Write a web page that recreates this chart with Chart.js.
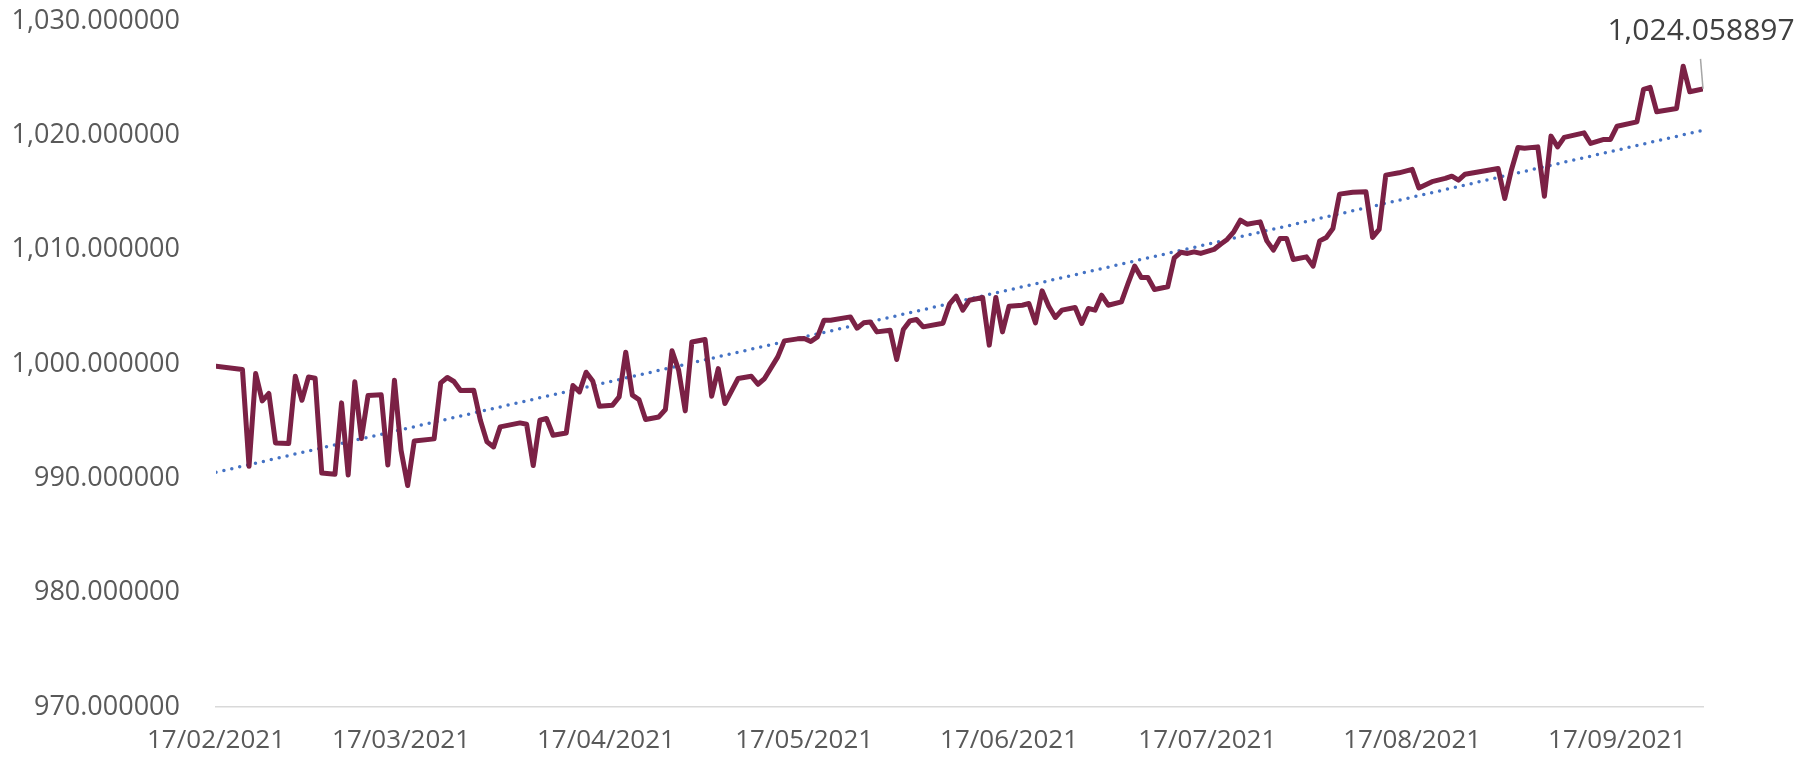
<!DOCTYPE html>
<html>
<head>
<meta charset="utf-8">
<script src="https://cdn.jsdelivr.net/npm/chart.js@4.4.1/dist/chart.umd.min.js"></script>
<style>
  html, body { margin: 0; padding: 0; background: #ffffff; }
  #wrap { width: 1817px; height: 762px; }
</style>
</head>
<body>
<div id="wrap"><canvas id="grafico" width="1817" height="762"></canvas></div>
<script>
// Dados
const datas = [
  "2021-02-17", "2021-02-21", "2021-02-22", "2021-02-23", "2021-02-24", "2021-02-25", "2021-02-26", "2021-02-28",
  "2021-03-01", "2021-03-02", "2021-03-03", "2021-03-04", "2021-03-05", "2021-03-07", "2021-03-08", "2021-03-09",
  "2021-03-10", "2021-03-11", "2021-03-12", "2021-03-14", "2021-03-15", "2021-03-16", "2021-03-17", "2021-03-18",
  "2021-03-19", "2021-03-22", "2021-03-23", "2021-03-24", "2021-03-25", "2021-03-26", "2021-03-28", "2021-03-29",
  "2021-03-30", "2021-03-31", "2021-04-01", "2021-04-04", "2021-04-05", "2021-04-06", "2021-04-07", "2021-04-08",
  "2021-04-09", "2021-04-11", "2021-04-12", "2021-04-13", "2021-04-14", "2021-04-15", "2021-04-16", "2021-04-18",
  "2021-04-19", "2021-04-20", "2021-04-21", "2021-04-22", "2021-04-23", "2021-04-25", "2021-04-26", "2021-04-27",
  "2021-04-28", "2021-04-29", "2021-04-30", "2021-05-02", "2021-05-03", "2021-05-04", "2021-05-05", "2021-05-07",
  "2021-05-09", "2021-05-10", "2021-05-11", "2021-05-13", "2021-05-14", "2021-05-16", "2021-05-17", "2021-05-18",
  "2021-05-19", "2021-05-20", "2021-05-21", "2021-05-24", "2021-05-25", "2021-05-26", "2021-05-27", "2021-05-28",
  "2021-05-30", "2021-05-31", "2021-06-01", "2021-06-02", "2021-06-03", "2021-06-04", "2021-06-07", "2021-06-08",
  "2021-06-09", "2021-06-10", "2021-06-11", "2021-06-13", "2021-06-14", "2021-06-15", "2021-06-16", "2021-06-17",
  "2021-06-19", "2021-06-20", "2021-06-21", "2021-06-22", "2021-06-23", "2021-06-24", "2021-06-25", "2021-06-27",
  "2021-06-28", "2021-06-29", "2021-06-30", "2021-07-01", "2021-07-02", "2021-07-04", "2021-07-05", "2021-07-06",
  "2021-07-07", "2021-07-08", "2021-07-09", "2021-07-11", "2021-07-12", "2021-07-13", "2021-07-14", "2021-07-15",
  "2021-07-16", "2021-07-18", "2021-07-19", "2021-07-20", "2021-07-21", "2021-07-22", "2021-07-23", "2021-07-25",
  "2021-07-26", "2021-07-27", "2021-07-28", "2021-07-29", "2021-07-30", "2021-08-01", "2021-08-02", "2021-08-03",
  "2021-08-04", "2021-08-05", "2021-08-06", "2021-08-08", "2021-08-10", "2021-08-11", "2021-08-12", "2021-08-13",
  "2021-08-15", "2021-08-17", "2021-08-18", "2021-08-20", "2021-08-22", "2021-08-23", "2021-08-24", "2021-08-25",
  "2021-08-30", "2021-08-31", "2021-09-01", "2021-09-02", "2021-09-03", "2021-09-05", "2021-09-06", "2021-09-07",
  "2021-09-08", "2021-09-09", "2021-09-12", "2021-09-13", "2021-09-15", "2021-09-16", "2021-09-17", "2021-09-20",
  "2021-09-21", "2021-09-22", "2021-09-23", "2021-09-26", "2021-09-27", "2021-09-28", "2021-09-30"
];

const valores = [
  999.81, 999.52, 991.06, 999.17, 996.77, 997.42, 993.10, 993.05,
  998.93, 996.83, 998.87, 998.76, 990.47, 990.36, 996.60, 990.30,
  998.44, 993.48, 997.24, 997.30, 991.17, 998.58, 992.46, 989.37,
  993.27, 993.45, 998.35, 998.82, 998.47, 997.68, 997.71, 995.08,
  993.19, 992.75, 994.50, 994.85, 994.73, 991.12, 995.08, 995.23,
  993.77, 993.97, 998.12, 997.56, 999.28, 998.52, 996.31, 996.40,
  997.12, 1001.03, 997.27, 996.89, 995.14, 995.37, 996.02, 1001.15,
  999.46, 995.90, 1001.93, 1002.14, 997.18, 999.60, 996.54, 998.73,
  998.93, 998.23, 998.73, 1000.62, 1002.02, 1002.20, 1002.23, 1001.97,
  1002.37, 1003.83, 1003.83, 1004.12, 1003.13, 1003.60, 1003.68, 1002.81,
  1002.96, 1000.39, 1003.02, 1003.77, 1003.89, 1003.25, 1003.57, 1005.26,
  1005.93, 1004.71, 1005.58, 1005.82, 1001.65, 1005.82, 1002.81, 1005.06,
  1005.14, 1005.29, 1003.60, 1006.40, 1005.06, 1004.07, 1004.71, 1004.94,
  1003.54, 1004.85, 1004.71, 1006.02, 1005.14, 1005.43, 1007.04, 1008.56,
  1007.57, 1007.57, 1006.52, 1006.75, 1009.28, 1009.77, 1009.67, 1009.81,
  1009.67, 1010.02, 1010.48, 1010.89, 1011.56, 1012.58, 1012.23, 1012.43,
  1010.77, 1009.96, 1010.98, 1010.98, 1009.14, 1009.37, 1008.56, 1010.77,
  1011.07, 1011.85, 1014.86, 1015.03, 1015.06, 1011.07, 1011.77, 1016.52,
  1016.72, 1017.02, 1015.40, 1015.95, 1016.23, 1016.43, 1016.08, 1016.60,
  1017.10, 1014.48, 1016.95, 1018.94, 1018.88, 1018.99, 1014.68, 1019.93,
  1018.99, 1019.82, 1020.22, 1019.29, 1019.64, 1019.64, 1020.80, 1021.18,
  1024.02, 1024.19, 1022.06, 1022.35, 1026.05, 1023.81, 1024.058897
];

// Linha de tendência (pontas)
const tendenciaDatas = ["2021-02-17", "2021-09-30"];
const tendenciaValores = [990.53, 1020.44];

// Rótulos do eixo X
const datasEixo = [
  "2021-02-17", "2021-03-17", "2021-04-17", "2021-05-17",
  "2021-06-17", "2021-07-17", "2021-08-17", "2021-09-17"
];

// Config
const inicio = "2021-02-17";
const fim = "2021-09-30";
const fonte = "'Open Sans', 'Noto Sans', sans-serif";

function dias(data) {
  const p = data.split("-");
  const d0 = inicio.split("-");
  return (Date.UTC(+p[0], +p[1] - 1, +p[2]) - Date.UTC(+d0[0], +d0[1] - 1, +d0[2])) / 86400000;
}

function formatarData(d) {
  const t = new Date(Date.UTC(2021, 1, 17) + d * 86400000);
  const dd = String(t.getUTCDate()).padStart(2, "0");
  const mm = String(t.getUTCMonth() + 1).padStart(2, "0");
  return dd + "/" + mm + "/" + t.getUTCFullYear();
}

function formatarNumero(v) {
  return v.toLocaleString("en-US", { minimumFractionDigits: 6, maximumFractionDigits: 6 });
}

// Rótulo do último ponto com linha de chamada
const rotuloFinal = {
  id: "rotuloFinal",
  afterDatasetsDraw(chart) {
    const meta = chart.getDatasetMeta(0);
    const ponto = meta.data[meta.data.length - 1];
    const ctx = chart.ctx;
    ctx.save();
    ctx.strokeStyle = "#a6a6a6";
    ctx.lineWidth = 1.5;
    ctx.beginPath();
    ctx.moveTo(ponto.x - 2.5, ponto.y - 30);
    ctx.lineTo(ponto.x, ponto.y);
    ctx.stroke();
    ctx.fillStyle = "#404040";
    ctx.font = "30px " + fonte;
    ctx.textAlign = "center";
    ctx.textBaseline = "middle";
    ctx.fillText(formatarNumero(valores[valores.length - 1]), ponto.x - 2, ponto.y - 57);
    ctx.restore();
  }
};

const ctx = document.querySelector("#grafico").getContext("2d");
const chart = new Chart(ctx, {
  type: "line",
  data: {
    datasets: [
      {
        data: datas.map((d, i) => ({ x: dias(d), y: valores[i] })),
        borderColor: "#7b2145",
        borderWidth: 5,
        borderJoinStyle: "round",
        borderCapStyle: "round",
        pointRadius: 0,
        tension: 0,
      },
      {
        data: tendenciaDatas.map((d, i) => ({ x: dias(d), y: tendenciaValores[i] })),
        borderColor: "#4472c4",
        borderWidth: 3.5,
        borderDash: [0, 8.1],
        borderCapStyle: "round",
        pointRadius: 0,
        tension: 0,
      },
    ],
  },
  options: {
    responsive: false,
    animation: false,
    layout: { padding: { top: 21, right: 114, left: 0, bottom: 0 } },
    plugins: { legend: { display: false }, tooltip: { enabled: false } },
    scales: {
      x: {
        type: "linear",
        min: 0,
        max: dias(fim),
        afterBuildTicks: (scale) => {
          scale.ticks = datasEixo.map((d) => ({ value: dias(d) }));
        },
        afterFit: (scale) => {
          scale.height = 55;
          scale.paddingLeft = 0;
          scale.paddingRight = 0;
        },
        grid: { display: false, drawTicks: false },
        border: { display: true, color: "#d9d9d9", width: 1.5 },
        ticks: {
          autoSkip: false,
          maxRotation: 0,
          padding: 18,
          color: "#595959",
          font: { family: fonte, size: 26 },
          callback: (v) => formatarData(v),
        },
      },
      y: {
        min: 970,
        max: 1030,
        afterFit: (scale) => {
          scale.width = 216;
          scale.paddingTop = 0;
          scale.paddingBottom = 0;
        },
        grid: { display: false, drawTicks: false },
        border: { display: false },
        ticks: {
          stepSize: 10,
          padding: 36,
          color: "#595959",
          font: { family: fonte, size: 27 },
          callback: (v) => formatarNumero(v),
        },
      },
    },
  },
  plugins: [rotuloFinal],
});
</script>
</body>
</html>
